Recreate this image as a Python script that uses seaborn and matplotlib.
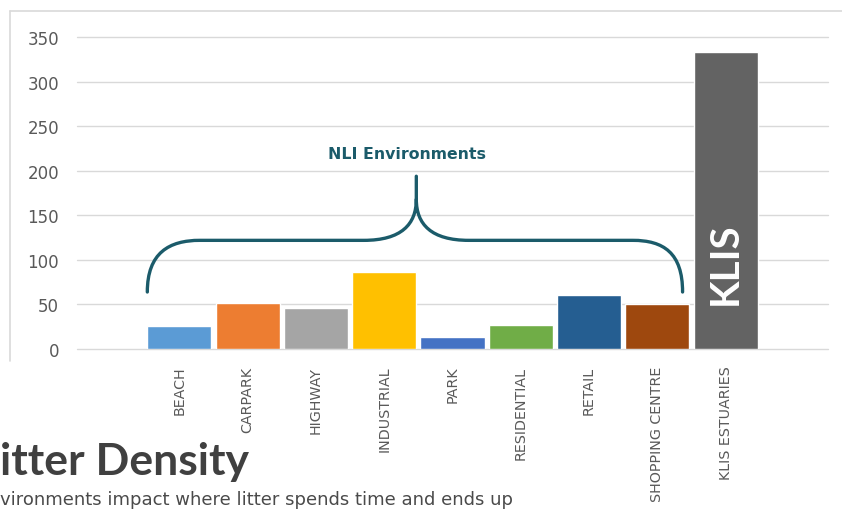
import matplotlib
matplotlib.use("Agg")
import matplotlib.pyplot as plt
from matplotlib.path import Path
from matplotlib.patches import PathPatch
from matplotlib.lines import Line2D
import seaborn as sns
import pandas as pd

# Litter density by environment
categories = ["BEACH", "CARPARK", "HIGHWAY", "INDUSTRIAL", "PARK",
              "RESIDENTIAL", "RETAIL", "SHOPPING CENTRE", "KLIS ESTUARIES"]
values = [25.5, 52, 46, 87, 14, 27, 61, 51, 334]
bar_colors = ["#5B9BD5", "#ED7D31", "#A5A5A5", "#FFC000", "#4472C4",
              "#70AD47", "#255E91", "#9E480E", "#636363"]
y_ticks = [0, 50, 100, 150, 200, 250, 300, 350]

sns.set_theme(style="white")
plt.rcParams["font.family"] = ["DejaVu Sans"]

W, H = 842, 510
fig = plt.figure(figsize=(W / 100, H / 100), dpi=100)
fig.patch.set_facecolor("white")

# chart frame (top and left edges)
frame_c = "#D9D9D9"
fig.add_artist(Line2D([10 / W, 10 / W], [1 - 12 / H, 1 - 362 / H],
                      transform=fig.transFigure, color=frame_c, lw=1.2))
fig.add_artist(Line2D([10 / W, 1.0], [1 - 12 / H, 1 - 12 / H],
                      transform=fig.transFigure, color=frame_c, lw=1.2))

ax = fig.add_axes([77 / W, 160 / H, 751 / W, 311.7 / H])
df = pd.DataFrame({"category": categories, "value": values})
sns.barplot(data=df, x="category", y="value", hue="category",
            palette=bar_colors, order=categories, hue_order=categories,
            width=0.94, saturation=1, legend=False, ax=ax, zorder=3)

ax.set_xlim(-1.5, 9.5)
ax.set_ylim(0, 350)
ax.set_yticks(y_ticks)
ax.yaxis.grid(True, color="#D9D9D9", lw=1.0, zorder=0)
for gl in ax.get_ygridlines():
    gl.set_clip_on(False)
ax.set_axisbelow(True)
for s in ax.spines.values():
    s.set_visible(False)
ax.set_xlabel("")
ax.set_ylabel("")
ax.tick_params(axis="y", length=0, pad=13, labelsize=12, labelcolor="#595959")
ax.tick_params(axis="x", length=0, pad=12, labelsize=10.3, labelcolor="#595959")
ax.set_xticks(range(len(categories)))
ax.set_xticklabels(categories, rotation=90, va="top", ha="center")

# curly brace grouping the NLI environments
brace_c = "#1B5B6A"
verts = [
    (-0.47, 64),
    (-0.47, 108), (-0.15, 122), (0.30, 122),
    (2.70, 122),
    (3.25, 122), (3.47, 140), (3.47, 168),
    (3.47, 194),
    (3.47, 168),
    (3.47, 140), (3.69, 122), (4.24, 122),
    (6.64, 122),
    (7.09, 122), (7.37, 108), (7.37, 64),
]
codes = [Path.MOVETO,
         Path.CURVE4, Path.CURVE4, Path.CURVE4,
         Path.LINETO,
         Path.CURVE4, Path.CURVE4, Path.CURVE4,
         Path.LINETO,
         Path.MOVETO,
         Path.CURVE4, Path.CURVE4, Path.CURVE4,
         Path.LINETO,
         Path.CURVE4, Path.CURVE4, Path.CURVE4]
ax.add_patch(PathPatch(Path(verts, codes), facecolor="none", edgecolor=brace_c,
                       lw=2.4, capstyle="round", joinstyle="round", zorder=4))
ax.text(3.34, 219, "NLI Environments", ha="center", va="center",
        fontsize=11.3, fontweight="bold", color=brace_c, zorder=5)

# label inside the estuaries bar
ax.text(8, 97, "KLIS", rotation=90, ha="center", va="center", color="white",
        fontsize=29, fontweight="bold", family=["Lato", "DejaVu Sans"],
        zorder=5)

# heading and caption below the chart
fig.text(0.0, 35 / H, "itter Density", ha="left", va="baseline",
         fontsize=32, fontweight="bold", color="#404040",
         family=["Lato", "DejaVu Sans"])
fig.text(0.0, 5 / H, "vironments impact where litter spends time and ends up",
         ha="left", va="baseline", fontsize=13, color="#4A4A4A")

fig.savefig("out.png", dpi=100, facecolor="white")
